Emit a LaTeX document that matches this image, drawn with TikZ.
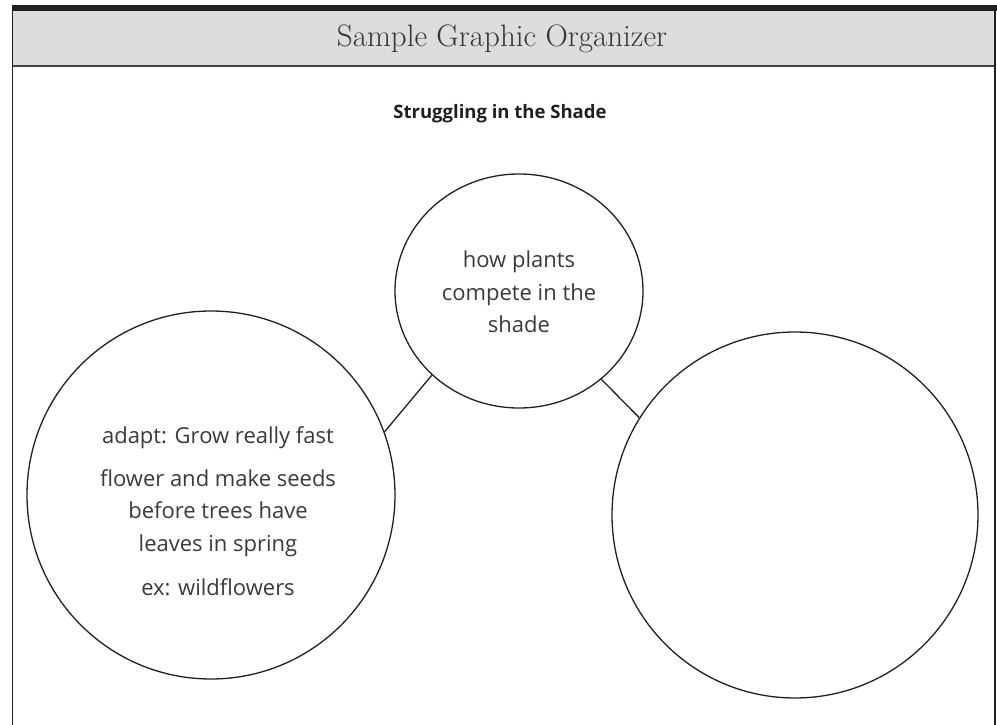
\documentclass[tikz,border=0pt]{standalone}
\usepackage{fontspec}
\usetikzlibrary{shapes.geometric}
\newfontfamily\handfont{Open Sans}
\newfontfamily\subfont{Open Sans}
\definecolor{ink}{HTML}{231F20}
\definecolor{hdr}{HTML}{DCDDDF}
\definecolor{txt}{HTML}{3A3A3A}
\begin{document}
\begin{tikzpicture}[x=1pt,y=-1pt,
  bubble/.style={ellipse, draw=ink, line width=1.3pt, inner sep=0pt},
  link/.style={draw=ink, line width=1.3pt},
  hand/.style={font=\handfont\fontsize{22}{32.5}\selectfont, text=txt, align=center, inner sep=0pt},
  frameline/.style={draw=ink, line width=1.2pt}]
\useasboundingbox (0,0) rectangle (997,725);
\fill[hdr] (12.5,11.5) rectangle (995,66);
\fill[ink] (12,5) rectangle (997,11.5);
\draw[ink!85, line width=1.6pt] (12.5,66) -- (995,66);
\draw[frameline] (12.5,5) -- (12.5,725);
\draw[frameline] (995,5) -- (995,725);
\node[text=ink!90, font=\fontsize{31}{31}\selectfont] (title) at (502,39) {Sample Graphic Organizer};
\node[text=ink, font=\subfont\bfseries\fontsize{18.5}{18.5}\selectfont] (sub) at (500,114) {Struggling in the Shade};
\node[bubble, minimum width=248pt, minimum height=234pt] (c) at (519,291) {};
\node[bubble, minimum width=368pt, minimum height=368pt] (l) at (211,495) {};
\node[bubble, minimum width=366pt, minimum height=366pt] (r) at (795,515) {};
\draw[link] (c.224.5) -- (l.20.7);
\draw[link] (c.313.2) -- (r.148);
\node[hand] (ct) at (519,292) {how plants\\compete in the\\shade};
\node[hand] (l1) at (218,438) {adapt: Grow really fast};
\node[hand] (l2) at (218,513) {flower and make seeds\\before trees have\\leaves in spring};
\node[hand] (l3) at (218,587) {ex: wildflowers};
\end{tikzpicture}
\end{document}
